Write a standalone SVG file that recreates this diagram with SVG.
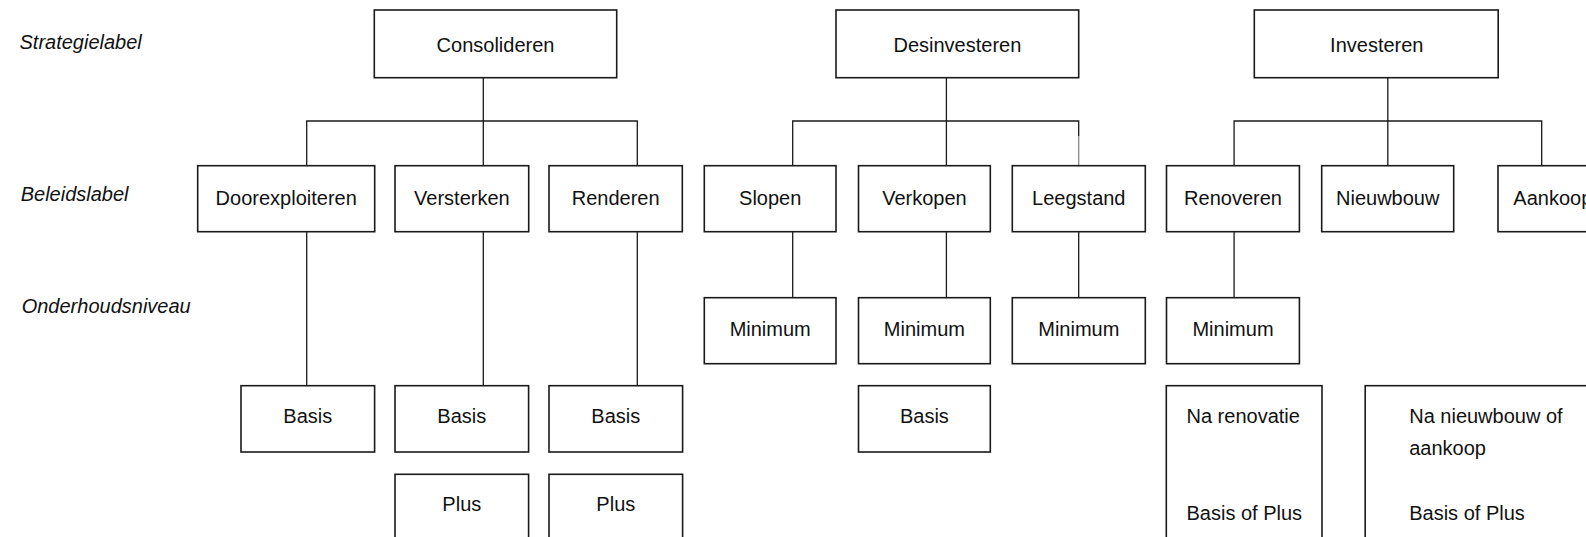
<svg xmlns="http://www.w3.org/2000/svg" width="1586" height="537" viewBox="0 0 1586 537">
<style>
.box{fill:#fff;stroke:#1a1a1a;stroke-width:1.6}
.t{font-family:"Liberation Sans",Arial,sans-serif;font-size:20px;fill:#111;text-anchor:middle}
.tl{font-family:"Liberation Sans",Arial,sans-serif;font-size:20px;fill:#111}
.lab{font-family:"Liberation Sans",Arial,sans-serif;font-size:20px;font-style:italic;fill:#111}
.c{fill:none;stroke:#1a1a1a;stroke-width:1.3}
</style>
<rect width="1586" height="537" fill="#fff"/>
<g id="labels">
<text class="lab" x="19.5" y="48.5">Strategielabel</text>
<text class="lab" x="20.7" y="201">Beleidslabel</text>
<text class="lab" x="21.7" y="313.3">Onderhoudsniveau</text>
</g>
<g id="connectors">
<path class="c" d="M483.3 77.7V121M306.7 165.7V121H637.3V165.7M483.3 121V165.7"/>
<path class="c" d="M306.7 231.7V385.7M483.3 231.7V385.7M637.3 231.7V385.7"/>
<path class="c" d="M946.4 77.7V121M792.7 165.7V121H1078.7V136M946.4 121V165.7"/>
<path d="M1078.7 136V165.7" fill="none" stroke="#888" stroke-width="1.3"/>
<path class="c" d="M792.7 231.7V297.7M946.4 231.7V297.7M1078.7 231.7V297.7M1234.1 231.7V297.7"/>
<path class="c" d="M1387.8 77.7V121M1234.1 165.7V121H1541.7V165.7M1387.8 121V165.7"/>
</g>
<g id="consolideren"><rect class="box" x="374.3" y="10" width="242.4" height="67.7"/><text class="t" x="495.5" y="52.3">Consolideren</text></g>
<g id="desinvesteren"><rect class="box" x="836" y="10" width="242.7" height="67.7"/><text class="t" x="957.4" y="52.3">Desinvesteren</text></g>
<g id="investeren"><rect class="box" x="1254.3" y="10" width="243.9" height="67.7"/><text class="t" x="1376.8" y="52.3">Investeren</text></g>
<g id="doorexploiteren"><rect class="box" x="197.7" y="165.7" width="177" height="66"/><text class="t" x="286.2" y="205">Doorexploiteren</text></g>
<g id="versterken"><rect class="box" x="395" y="165.7" width="133.7" height="66"/><text class="t" x="461.9" y="205">Versterken</text></g>
<g id="renderen"><rect class="box" x="549" y="165.7" width="133.3" height="66"/><text class="t" x="615.7" y="205">Renderen</text></g>
<g id="slopen"><rect class="box" x="704.3" y="165.7" width="131.7" height="66"/><text class="t" x="770.2" y="205">Slopen</text></g>
<g id="verkopen"><rect class="box" x="858.5" y="165.7" width="131.8" height="66"/><text class="t" x="924.4" y="205">Verkopen</text></g>
<g id="leegstand"><rect class="box" x="1012.3" y="165.7" width="133" height="66"/><text class="t" x="1078.8" y="205">Leegstand</text></g>
<g id="renoveren"><rect class="box" x="1166.5" y="165.7" width="132.9" height="66"/><text class="t" x="1233" y="205">Renoveren</text></g>
<g id="nieuwbouw"><rect class="box" x="1321.7" y="165.7" width="132" height="66"/><text class="t" x="1387.7" y="205">Nieuwbouw</text></g>
<g id="aankoop"><rect class="box" x="1498" y="165.7" width="133" height="66"/><text class="tl" x="1513.3" y="205">Aankoop</text></g>
<g id="minimum-slopen"><rect class="box" x="704.3" y="297.7" width="131.7" height="66"/><text class="t" x="770.2" y="336">Minimum</text></g>
<g id="minimum-verkopen"><rect class="box" x="858.5" y="297.7" width="131.8" height="66"/><text class="t" x="924.4" y="336">Minimum</text></g>
<g id="minimum-leegstand"><rect class="box" x="1012.3" y="297.7" width="133" height="66"/><text class="t" x="1078.8" y="336">Minimum</text></g>
<g id="minimum-renoveren"><rect class="box" x="1166.5" y="297.7" width="132.9" height="66"/><text class="t" x="1233" y="336">Minimum</text></g>
<g id="basis-doorexploiteren"><rect class="box" x="241" y="385.7" width="133.6" height="66.3"/><text class="t" x="307.8" y="423">Basis</text></g>
<g id="basis-versterken"><rect class="box" x="395" y="385.7" width="133.6" height="66.3"/><text class="t" x="461.8" y="423">Basis</text></g>
<g id="basis-renderen"><rect class="box" x="549" y="385.7" width="133.6" height="66.3"/><text class="t" x="615.8" y="423">Basis</text></g>
<g id="basis-verkopen"><rect class="box" x="858.5" y="385.7" width="131.8" height="66.3"/><text class="t" x="924.4" y="423">Basis</text></g>
<g id="plus-versterken"><rect class="box" x="395" y="474.3" width="133.6" height="90"/><text class="t" x="461.8" y="510.7">Plus</text></g>
<g id="plus-renderen"><rect class="box" x="549" y="474.3" width="133.6" height="90"/><text class="t" x="615.8" y="510.7">Plus</text></g>
<g id="na-renovatie"><rect class="box" x="1166.3" y="385.7" width="155.7" height="200"/><text class="tl" x="1186.5" y="423">Na renovatie</text><text class="tl" x="1186.5" y="520">Basis of Plus</text></g>
<g id="na-nieuwbouw"><rect class="box" x="1365.2" y="385.7" width="300" height="200"/><text class="tl" x="1409.2" y="423">Na nieuwbouw of</text><text class="tl" x="1409.2" y="455">aankoop</text><text class="tl" x="1409.2" y="520">Basis of Plus</text></g>
</svg>
